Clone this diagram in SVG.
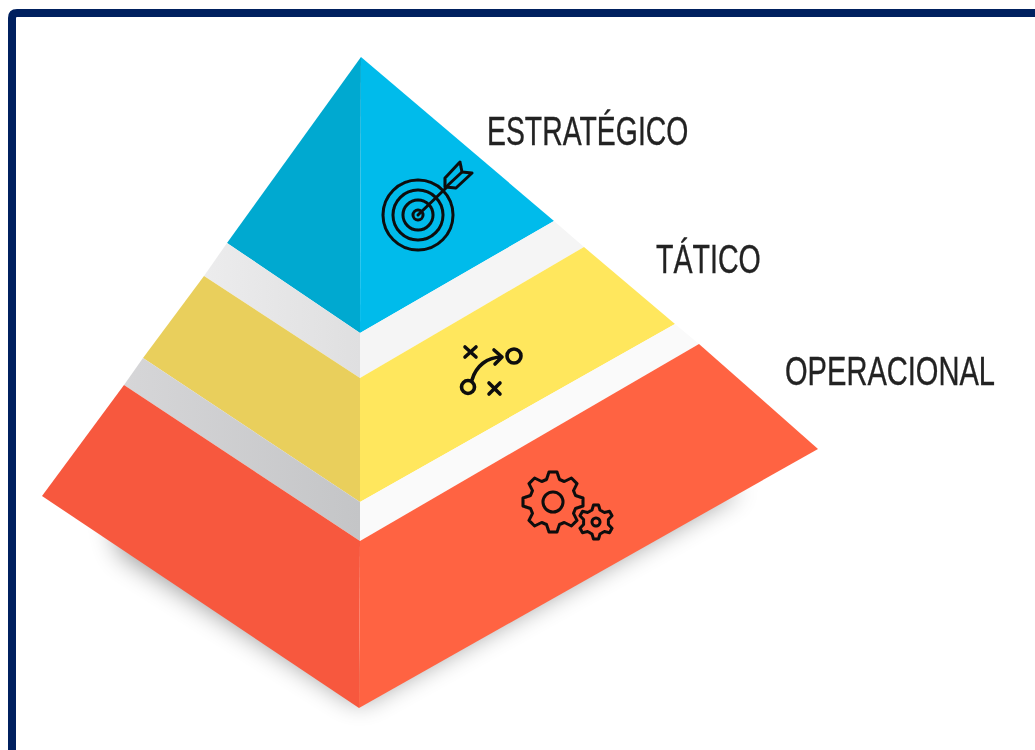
<svg xmlns="http://www.w3.org/2000/svg" width="1035" height="750" viewBox="0 0 1035 750">
<defs>
<filter id="blur" x="-30%" y="-30%" width="160%" height="160%"><feGaussianBlur stdDeviation="13"/></filter>
<filter id="soft" x="-10%" y="-10%" width="120%" height="120%"><feGaussianBlur stdDeviation="0.55"/></filter>
<linearGradient id="g1" x1="0" y1="0" x2="1" y2="0"><stop offset="0" stop-color="#ececed"/><stop offset="1" stop-color="#dfdfe0"/></linearGradient>
<linearGradient id="g2" x1="0" y1="0" x2="1" y2="0"><stop offset="0" stop-color="#d6d6d8"/><stop offset="1" stop-color="#c4c5c7"/></linearGradient>
</defs>
<style>
.lbl{font-family:"Liberation Sans",Arial,sans-serif;font-size:40px;fill:#222;stroke:#222;stroke-width:.35}
.ic{fill:none;stroke:#0d0d0d;stroke-width:3;stroke-linejoin:round;stroke-linecap:round}
.ic2{stroke-width:3.600}
</style>
<rect width="1035" height="750" fill="#fff"/>
<path id="frame" d="M1035 13H17Q12 13 12 18V750" fill="none" stroke="#00205f" stroke-width="8"/>
<g id="shadow">
<path d="M110 505L359 668L700 478L740 490L359 703L120 552Z" fill="#000" opacity=".42" filter="url(#blur)"/>
</g>
<g id="estrategico">
<polygon points="361,57 227,243 360,333" fill="#00a9d0"/>
<polygon points="361,57 554,221 360,333" fill="#00bbeb"/>
<polygon points="227,243 360,333 360,378 204,276" fill="url(#g1)"/>
<polygon points="360,333 554,221 584,247 360,378" fill="#f5f5f5"/>
<g class="ic" filter="url(#soft)">
<circle cx="418" cy="215" r="35"/>
<circle cx="418" cy="215" r="25"/>
<circle cx="418" cy="215" r="15"/>
<circle cx="418" cy="215" r="5"/>
<path d="M418 215L446 188"/>
<path d="M445 187L445 178L460 162L462 172L472 173L456 188Z"/>
<path d="M446 187L462 172"/>
</g>
</g>
<g id="tatico">
<polygon points="204,276 360,378 360,502 143,358" fill="#e9cf5c"/>
<polygon points="360,378 584,247 675,324 360,502" fill="#ffe75d"/>
<polygon points="143,358 360,502 360,541 124,385" fill="url(#g2)"/>
<polygon points="360,502 675,324 699,344 360,541" fill="#fafafa"/>
<g class="ic ic2" filter="url(#soft)">
<circle cx="468" cy="387" r="6.500"/>
<circle cx="514" cy="356" r="7"/>
<path d="M465 347L476 357M476 347L465 357M489 383L500 394M500 383L489 394"/>
<path d="M472 380C476 366 487 357 502 357M494 350L502 357L495 364"/>
</g>
</g>
<g id="operacional">
<polygon points="124,385 360,541 359,708 42,496" fill="#f7583e"/>
<polygon points="360,541 699,344 818,449 359,708" fill="#ff6342"/>
<g class="ic" filter="url(#soft)">
<polygon transform="translate(553,502)" points="-6.500,-22.500 -4,-30 4,-30 6.500,-22.500 11.300,-20.500 18.400,-24 24,-18.400 20.500,-11.300 22.500,-6.500 30,-4 30,4 22.500,6.500 20.500,11.300 24,18.400 18.400,24 11.300,20.500 6.500,22.500 4,30 -4,30 -6.500,22.500 -11.300,20.500 -18.400,24 -24,18.400 -20.500,11.300 -22.500,6.500 -30,4 -30,-4 -22.500,-6.500 -20.500,-11.300 -24,-18.400 -18.400,-24 -11.300,-20.500"/>
<circle cx="553" cy="502" r="10"/>
<polygon transform="translate(596,522)" points="-4,-12 -2.500,-17 2.500,-17 4,-12 8.400,-9.500 13.500,-10.700 16,-6.300 12.400,-2.500 12.400,2.500 16,6.300 13.500,10.700 8.400,9.500 4,12 2.500,17 -2.500,17 -4,12 -8.400,9.500 -13.500,10.700 -16,6.300 -12.400,2.500 -12.400,-2.500 -16,-6.300 -13.500,-10.700 -8.400,-9.500"/>
<circle cx="596" cy="522" r="4"/>
</g>
</g>
<g id="labels" filter="url(#soft)">
<text class="lbl" transform="translate(487,145) scale(.71,1)">ESTRATÉGICO</text>
<text class="lbl" transform="translate(656,273) scale(.715,1)">TÁTICO</text>
<text class="lbl" transform="translate(785,385) scale(.727,1)">OPERACIONAL</text>
</g>
</svg>
